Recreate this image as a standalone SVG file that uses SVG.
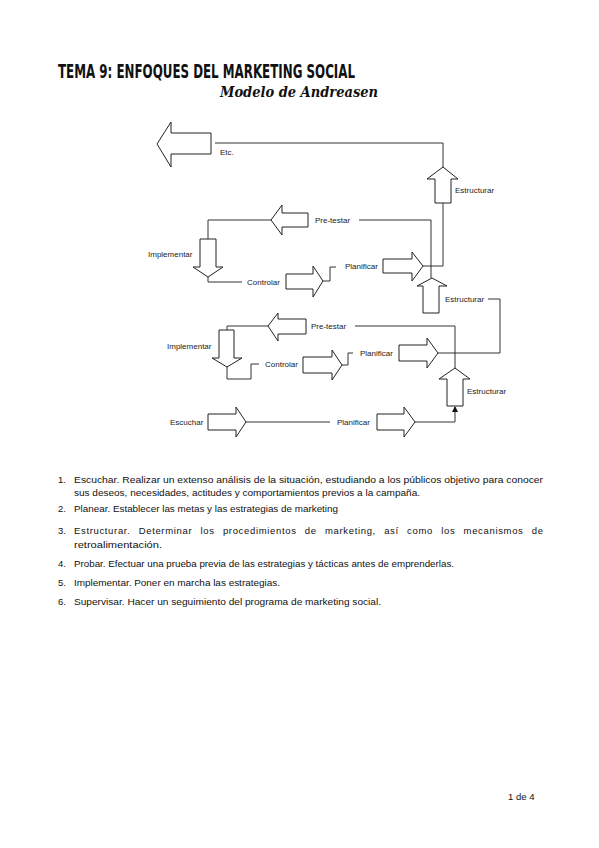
<svg xmlns="http://www.w3.org/2000/svg" width="599" height="848" viewBox="0 0 599 848">
<defs>
<style>
.a{fill:#fff;stroke:#222;stroke-width:1}
.c{fill:none;stroke:#333;stroke-width:1}
.l{font-family:"Liberation Sans",Arial,sans-serif;font-size:8px;fill:#222}
.t{font-family:"Liberation Sans",Arial,sans-serif;font-size:9.5px;fill:#111}
</style>
<marker id="m" markerWidth="6" markerHeight="6" refX="5" refY="3" orient="auto" markerUnits="userSpaceOnUse"><path d="M0,0 L6,3 L0,6 z" fill="#111"/></marker>
</defs>
<rect width="599" height="848" fill="#fff"/>
<text x="58" y="78" font-family="'Liberation Sans Narrow','DejaVu Sans Condensed',sans-serif" font-weight="bold" font-size="20" textLength="297" lengthAdjust="spacingAndGlyphs" fill="#111">TEMA 9: ENFOQUES DEL MARKETING SOCIAL</text>
<text x="220" y="97" font-family="'DejaVu Serif',serif" font-style="italic" font-weight="bold" font-size="14" textLength="158" lengthAdjust="spacingAndGlyphs" fill="#111">Modelo de Andreasen</text>

<g id="connectors">
<polyline class="c" points="215,143 443,143 443,167"/>
<polyline class="c" points="443,203 443,266 423,266"/>
<polyline class="c" points="359,220 431,220 431,278"/>
<polyline class="c" points="271,220 208,220 208,239"/>
<polyline class="c" points="208,277 208,282 242,282"/>
<polyline class="c" points="323,281 330,281 330,267 336,267"/>
<polyline class="c" points="488,299 500,299 500,353 438,353"/>
<polyline class="c" points="355,326 455,326 455,368"/>
<polyline class="c" points="268,326 227,326 227,330"/>
<polyline class="c" points="227,367 227,379 251,379 251,364 259,364"/>
<polyline class="c" points="342,365 348,365 348,353 353,353"/>
<polyline class="c" points="246,422 330,422"/>
<polyline class="c" points="415,422 455,422 455,407" marker-end="url(#m)"/>
</g>

<g id="etc"><polygon class="a" points="157,144 171,122 171,133 211,133 211,154 171,154 171,167"/><text class="l" x="220" y="155">Etc.</text></g>
<g id="estructurar1"><polygon class="a" points="443,167 458,179 451,179 451,203 435,203 435,179 427,179"/><text class="l" x="455" y="193">Estructurar</text></g>
<g id="pretestar1"><polygon class="a" points="271,220 282,205 282,213 308,213 308,227 282,227 282,235"/><text class="l" x="315" y="223">Pre-testar</text></g>
<g id="implementar1"><polygon class="a" points="200,239 216,239 216,267 223,267 208,277 193,267 200,267"/><text class="l" x="148" y="257">Implementar</text></g>
<g id="controlar1"><polygon class="a" points="286,274 313,274 313,266 323,281 313,297 313,289 286,289"/><text class="l" x="247" y="285">Controlar</text></g>
<g id="planificar1"><polygon class="a" points="383,259 412,259 412,252 423,266 412,281 412,273 383,273"/><text class="l" x="345" y="269">Planificar</text></g>
<g id="estructurar2"><polygon class="a" points="432,278 447,286 439,286 439,313 423,313 423,286 417,286"/><text class="l" x="445" y="302">Estructurar</text></g>
<g id="pretestar2"><polygon class="a" points="268,326 278,313 278,319 306,319 306,334 278,334 278,341"/><text class="l" x="311" y="329">Pre-testar</text></g>
<g id="implementar2"><polygon class="a" points="219,330 234,330 234,358 242,358 227,367 212,358 219,358"/><text class="l" x="167" y="349">Implementar</text></g>
<g id="controlar2"><polygon class="a" points="303,357 332,357 332,350 342,365 332,380 332,373 303,373"/><text class="l" x="265" y="367">Controlar</text></g>
<g id="planificar2"><polygon class="a" points="399,345 427,345 427,338 438,353 427,368 427,361 399,361"/><text class="l" x="360" y="356">Planificar</text></g>
<g id="estructurar3"><polygon class="a" points="455,368 470,379 463,379 463,406 447,406 447,379 439,379"/><text class="l" x="467" y="394">Estructurar</text></g>
<g id="escuchar"><polygon class="a" points="208,414 236,414 236,407 246,422 236,437 236,430 208,430"/><text class="l" x="170" y="425">Escuchar</text></g>
<g id="planificar3"><polygon class="a" points="377,414 404,414 404,407 415,422 404,437 404,430 377,430"/><text class="l" x="337" y="425">Planificar</text></g>

<g id="list">
<text class="t" x="58" y="483">1.</text>
<text class="t" x="74" y="483" textLength="469" lengthAdjust="spacingAndGlyphs">Escuchar. Realizar un extenso análisis de la situación, estudiando a los públicos objetivo para conocer</text>
<text class="t" x="74" y="496" textLength="346" lengthAdjust="spacingAndGlyphs">sus deseos, necesidades, actitudes y comportamientos previos a la campaña.</text>
<text class="t" x="58" y="512">2.</text>
<text class="t" x="74" y="512" textLength="264" lengthAdjust="spacingAndGlyphs">Planear. Establecer las metas y las estrategias de marketing</text>
<text class="t" x="58" y="534">3.</text>
<text class="t" x="74" y="534" word-spacing="5" textLength="469" lengthAdjust="spacing">Estructurar. Determinar los procedimientos de marketing, así como los mecanismos de</text>
<text class="t" x="74" y="548" textLength="88" lengthAdjust="spacingAndGlyphs">retroalimentación.</text>
<text class="t" x="58" y="567">4.</text>
<text class="t" x="74" y="567" textLength="380" lengthAdjust="spacingAndGlyphs">Probar. Efectuar una prueba previa de las estrategias y tácticas antes de emprenderlas.</text>
<text class="t" x="58" y="586">5.</text>
<text class="t" x="74" y="586" textLength="206" lengthAdjust="spacingAndGlyphs">Implementar. Poner en marcha las estrategias.</text>
<text class="t" x="58" y="605">6.</text>
<text class="t" x="74" y="605" textLength="307" lengthAdjust="spacingAndGlyphs">Supervisar. Hacer un seguimiento del programa de marketing social.</text>
</g>
<text class="t" x="508" y="800" font-size="10">1 de 4</text>
</svg>
